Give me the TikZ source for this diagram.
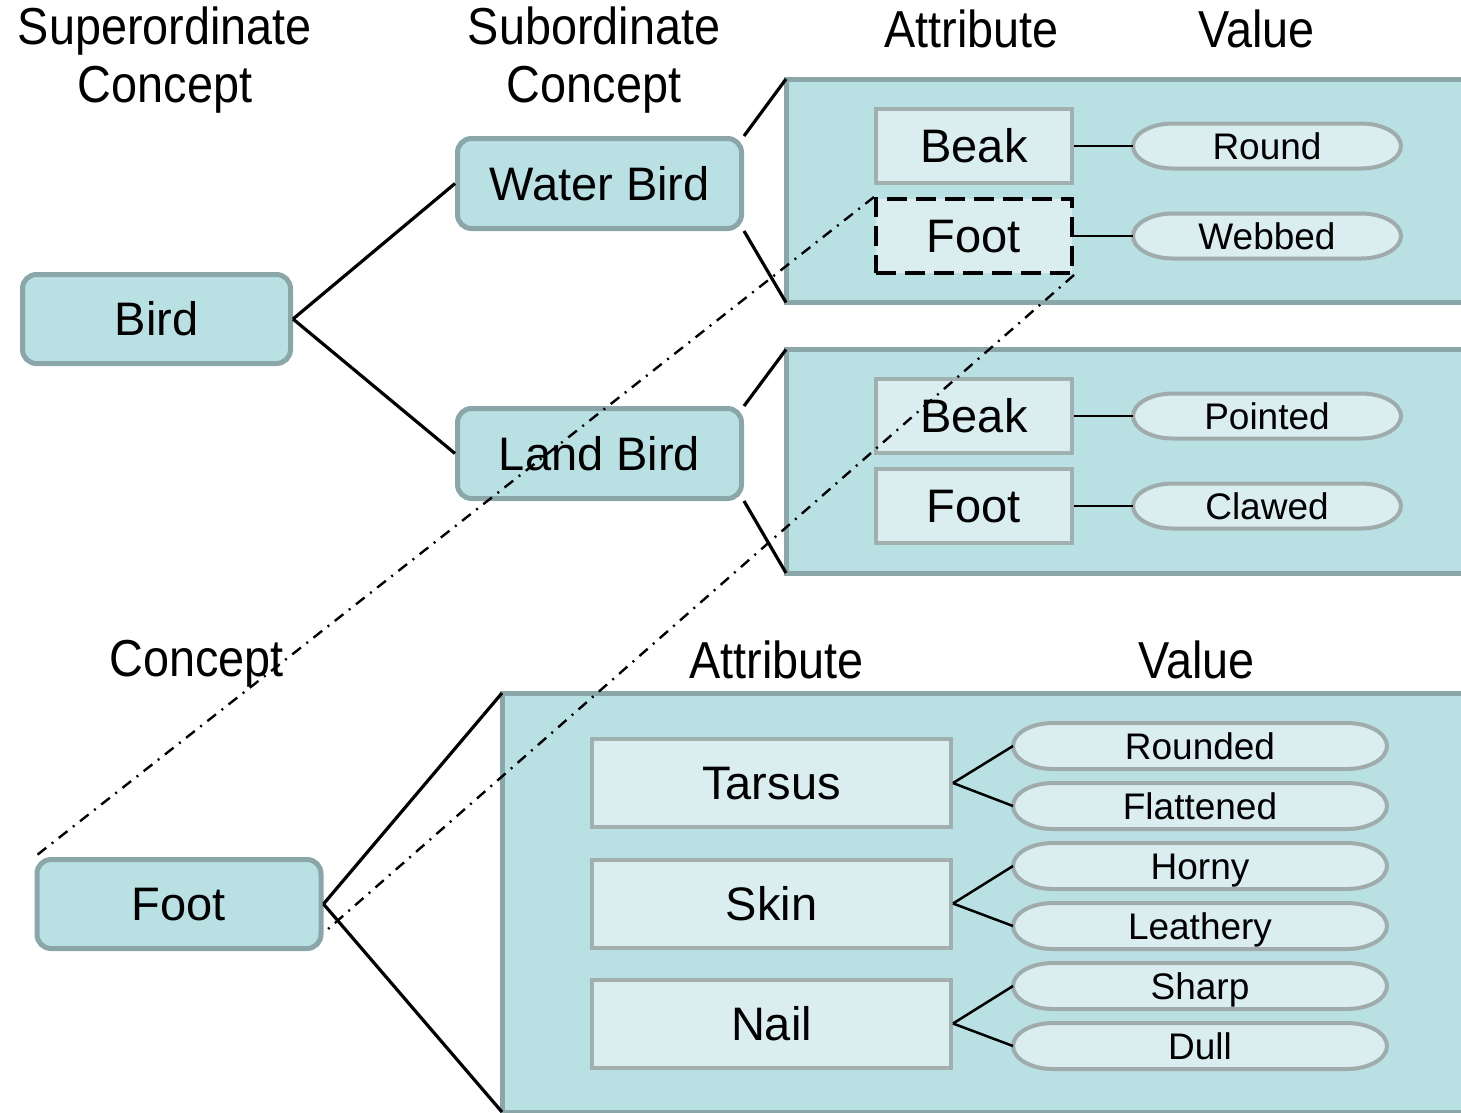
\documentclass[tikz,border=0pt]{standalone}
\usepackage{fontspec}
\setmainfont{Liberation Sans}
\newfontfamily\headfont[FakeStretch=0.9]{Liberation Sans}

\definecolor{panelfill}{HTML}{B9E0E3}
\definecolor{panelline}{HTML}{8AA6A8}
\definecolor{lightfill}{HTML}{DAEDEF}
\definecolor{attrline}{HTML}{A2AFAF}
\definecolor{valueline}{HTML}{A0ABAB}

\tikzset{
  headtwo/.style={inner sep=0pt, align=center, font=\headfont\fontsize{52}{58}\selectfont},
  headone/.style={inner sep=0pt, font=\headfont\fontsize{52}{58}\selectfont},
  concept/.style={draw=panelline, fill=panelfill, line width=5pt, rounded corners=14pt,
    minimum width=284pt, minimum height=90pt, inner sep=0pt,
    font=\fontsize{47}{56}\selectfont, text height=33.5pt, text depth=0pt},
  panel/.style={draw=panelline, fill=panelfill, line width=5pt, inner sep=0pt, outer sep=0pt},
  attr/.style={draw=attrline, fill=lightfill, line width=4pt, inner sep=0pt,
    minimum width=196pt, minimum height=74pt,
    font=\fontsize{47}{56}\selectfont, text height=33.5pt, text depth=0pt},
  attrbig/.style={attr, minimum width=359pt, minimum height=88pt},
  attrdash/.style={attr, draw=black, dash pattern=on 20pt off 9pt},
  valtext/.style={inner sep=0pt, outer sep=0pt, minimum height=45pt,
    font=\fontsize{37}{44}\selectfont, text height=26.5pt, text depth=0pt},
  valshape/.style={draw=valueline, fill=lightfill, line width=4pt},
  link/.style={draw=black, line width=3.2pt},
  sublink/.style={draw=black, line width=2.5pt},
  cross/.style={draw=black, line width=2.4pt, dash pattern=on 11pt off 7pt on 2pt off 7pt},
}

% value pill: name, centre x, centre y, width, half height, text
\newcommand\valnode[6]{%
  \draw[valshape] (#2-#4/2+40,#3-#5) -- (#2+#4/2-40,#3-#5)
    arc[start angle=-90, end angle=90, x radius=40, y radius=#5]
    -- (#2-#4/2+40,#3+#5)
    arc[start angle=90, end angle=270, x radius=40, y radius=#5] -- cycle;
  \node[valtext, minimum width=#4pt] (#1) at (#2,#3) {#6};
}

\begin{document}
\begin{tikzpicture}[x=1pt, y=-1pt]
\useasboundingbox (0,0) rectangle (1461,1112);

% column headings
\node[headtwo, anchor=north] (hSuper) at (165,6.5) {Superordinate\\Concept};
\node[headtwo, anchor=north] (hSub) at (594,6.5) {Subordinate\\Concept};
\node[headone, anchor=base] (hAttrA) at (971.5,47) {Attribute};
\node[headone, anchor=base] (hValA) at (1256.5,47) {Value};
\node[headone, anchor=base] (hConcept) at (196.5,676) {Concept};
\node[headone, anchor=base] (hAttrB) at (776.5,678) {Attribute};
\node[headone, anchor=base] (hValB) at (1196.5,678) {Value};

% attribute panels
\node[panel, anchor=north west, minimum width=700pt, minimum height=223.5pt] (panelW) at (786,79) {};
\node[panel, anchor=north west, minimum width=700pt, minimum height=223.5pt] (panelL) at (786,349.5) {};
\node[panel, anchor=north west, minimum width=990pt, minimum height=419pt] (panelF) at (502,693) {};

% concepts
\node[concept, minimum width=268pt, minimum height=89pt] (bird) at (156.5,319) {Bird};
\node[concept] (water) at (599.5,183.5) {Water Bird};
\node[concept] (land) at (599.5,453.5) {Land Bird};
\node[concept, minimum height=89pt] (footC) at (179,904) {Foot};

% attributes
\node[attr] (beakW) at (974,146) {Beak};
\node[attrdash] (footW) at (974,236) {Foot};
\node[attr] (beakL) at (974,416) {Beak};
\node[attr] (footL) at (974,506) {Foot};
\node[attrbig] (tarsus) at (771.5,783) {Tarsus};
\node[attrbig] (skin) at (771.5,903.5) {Skin};
\node[attrbig] (nail) at (771.5,1023.5) {Nail};

% values
\valnode{round}{1267}{146}{268}{22.5}{Round}
\valnode{webbed}{1267}{236}{268}{22.5}{Webbed}
\valnode{pointed}{1267}{416}{268}{22.5}{Pointed}
\valnode{clawed}{1267}{506}{268}{22.5}{Clawed}
\valnode{rounded}{1200}{746}{374}{23}{Rounded}
\valnode{flattened}{1200}{806}{374}{23}{Flattened}
\valnode{horny}{1200}{866}{374}{23}{Horny}
\valnode{leathery}{1200}{926}{374}{23}{Leathery}
\valnode{sharp}{1200}{986}{374}{23}{Sharp}
\valnode{dull}{1200}{1046}{374}{23}{Dull}

% hierarchy links
\draw[link] (bird.east) -- (water.west);
\draw[link] (bird.east) -- (land.west);
\draw[link] (water.north east) -- (panelW.north west);
\draw[link] (water.south east) -- (panelW.south west);
\draw[link] (land.north east) -- (panelL.north west);
\draw[link] (land.south east) -- (panelL.south west);
\draw[link] (footC.east) -- (panelF.north west);
\draw[link] (footC.east) -- (panelF.south west);

% attribute-value links
\draw[sublink] (beakW.east) -- (round.west);
\draw[sublink] (footW.east) -- (webbed.west);
\draw[sublink] (beakL.east) -- (pointed.west);
\draw[sublink] (footL.east) -- (clawed.west);
\draw[sublink] (tarsus.east) -- (rounded.west);
\draw[sublink] (tarsus.east) -- (flattened.west);
\draw[sublink] (skin.east) -- (horny.west);
\draw[sublink] (skin.east) -- (leathery.west);
\draw[sublink] (nail.east) -- (sharp.west);
\draw[sublink] (nail.east) -- (dull.west);

% expansion of the Foot attribute
\coordinate (footCrossEnd) at ([yshift=-29pt]footC.east);
\draw[cross] (footW.north west) -- (footC.north west);
\draw[cross] (footW.south east) -- (footCrossEnd);
\end{tikzpicture}
\end{document}
